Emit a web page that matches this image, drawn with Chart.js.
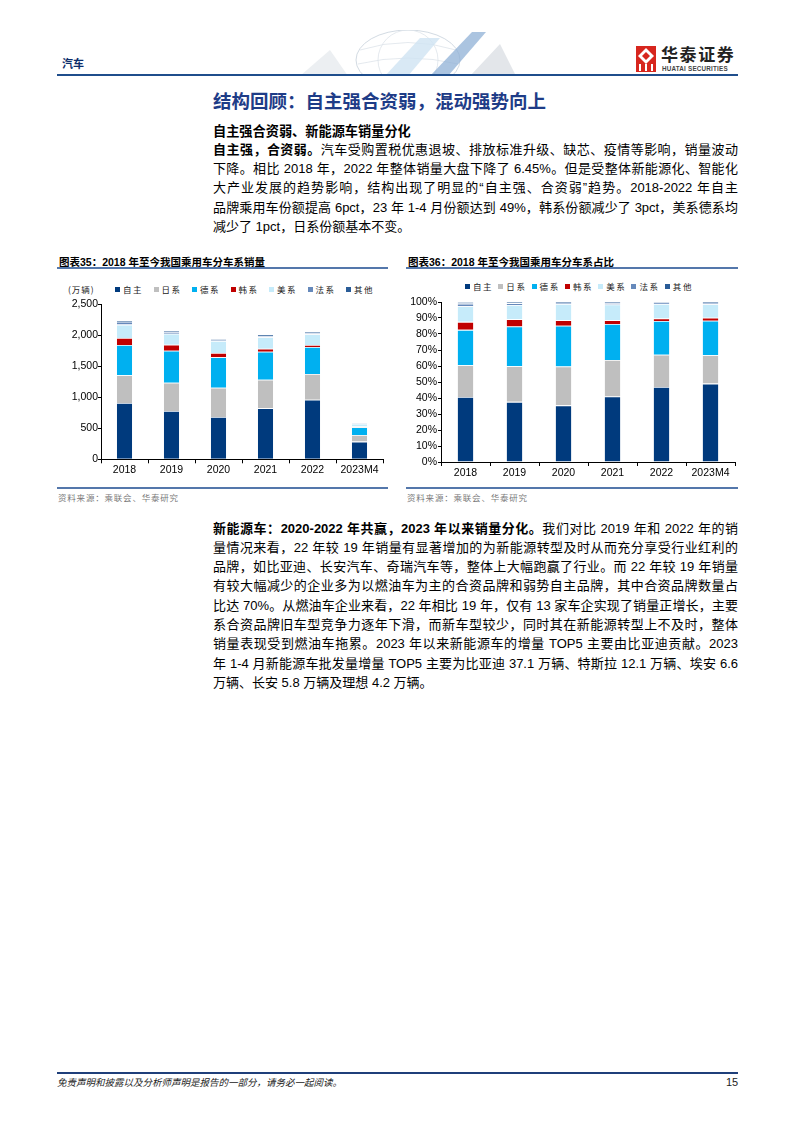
<!DOCTYPE html>
<html lang="zh-CN">
<head>
<meta charset="utf-8">
<title>结构回顾：自主强合资弱，混动强势向上</title>
<script src="https://cdn.jsdelivr.net/npm/chart.js@4.4.0/dist/chart.umd.min.js"></script>
<style>
  html, body { margin: 0; padding: 0; background: #fff; }
  body {
    width: 794px; height: 1123px; position: relative; overflow: hidden;
    font-family: "Liberation Sans", Arial, "Noto Sans CJK SC", sans-serif; color: #000;
  }
  .abs { position: absolute; }
  .cjk { font-family: "Noto Sans CJK SC", sans-serif; }
  .linea {
    position: absolute; left: 213px; width: 525px; height: 19px; line-height: 19px;
    font-size: 13px; white-space: nowrap; text-align: justify; text-align-last: justify;
  }
  .linea.ult { text-align-last: left; }
  .linea b { font-weight: 700; }
  .titulo-graf { font-size: 10.5px; font-weight: 700; line-height: 14px; }
  .regla { height: 1.5px; background: #5477ab; }
  .fuente { font-size: 8.5px; color: #7a7a7a; letter-spacing: 0.8px; line-height: 12px; }
  .leyenda { position: absolute; height: 12px; display: flex; align-items: center; }
  .leyenda .item { display: flex; align-items: center; font-family: "Noto Sans CJK SC", sans-serif;
                   font-size: 8.5px; letter-spacing: 1.6px; color: #222; }
  .leyenda .cuadro { width: 5px; height: 5px; margin-right: 3px; }
</style>
</head>
<body>

<!-- cabecera -->
<div class="abs cjk" style="left:62px; top:55px; font-size:11px; font-weight:700; color:#0c2d6b;">汽车</div>
<svg class="abs" style="left:290px; top:30px;" width="240" height="46" viewBox="0 0 240 46">
  <ellipse cx="118" cy="30" rx="52" ry="30" fill="none" stroke="#d3dbe3" stroke-width="1"/>
  <ellipse cx="118" cy="30" rx="30" ry="30" fill="none" stroke="#dde3ea" stroke-width="0.8"/>
  <path d="M70 20 Q118 5 166 20 M68 34 Q118 22 168 34" fill="none" stroke="#dde3ea" stroke-width="0.8"/>
  <polygon points="10,46 40,20 58,46" fill="#eceff2"/>
  <polygon points="95,46 130,8 150,8 118,46" fill="#cfe3f3" opacity="0.8"/>
  <polygon points="140,46 182,2 196,2 158,46" fill="#8fb0d6" opacity="0.75"/>
  <polygon points="180,46 210,14 226,46" fill="#e3e6ea"/>
</svg>
<svg class="abs" style="left:636px; top:46px;" width="20" height="26" viewBox="0 0 20 26">
  <rect x="0" y="0" width="20" height="26" fill="#d7261e"/>
  <polygon points="10,2 18,10 10,18 2,10" fill="#fff"/>
  <polygon points="10,6 14,10 10,14 6,10" fill="#d7261e"/>
  <rect x="3" y="18" width="2" height="7" fill="#fff"/>
  <rect x="9" y="18" width="2" height="7" fill="#fff"/>
  <rect x="15" y="18" width="2" height="7" fill="#fff"/>
</svg>
<div class="abs cjk" style="left:661px; top:44px; font-size:17px; font-weight:700; letter-spacing:1.6px; color:#222; line-height:20px;">华泰证券</div>
<div class="abs" style="left:662px; top:65px; font-size:6.3px; font-weight:700; color:#444; letter-spacing:0.2px; line-height:8px;">HUATAI SECURITIES</div>
<div class="abs" style="left:57px; top:74px; width:681px; height:2px; background:#1f4e8c;"></div>

<!-- texto superior -->
<div class="abs cjk" style="left:213px; top:89px; font-size:18.5px; font-weight:700; color:#1e3c87; line-height:23px;">结构回顾：自主强合资弱，混动强势向上</div>
<div class="abs cjk" style="left:213px; top:121px; font-size:13.2px; font-weight:700; line-height:19px;">自主强合资弱、新能源车销量分化</div>
<div id="parrafo1"></div>

<!-- graficas -->
<div class="abs titulo-graf" style="left:59px; top:255px;">图表35：2018 年至今我国乘用车分车系销量</div>
<div class="abs regla" style="left:57px; top:267px; width:331px;"></div>
<div class="abs titulo-graf" style="left:408px; top:255px;">图表36：2018 年至今我国乘用车分车系占比</div>
<div class="abs regla" style="left:406px; top:267px; width:332px;"></div>

<div class="abs cjk" style="left:68px; top:283px; font-size:8.5px; letter-spacing:1px; color:#222; line-height:12px;">(万辆)</div>
<div id="leyenda1" class="leyenda" style="left:115px; top:283px;"></div>
<div id="leyenda2" class="leyenda" style="left:465px; top:280px;"></div>

<canvas id="graficoVolumen" class="abs" style="left:57px; top:296px;" width="331" height="184"></canvas>
<canvas id="graficoCuota" class="abs" style="left:406px; top:294px;" width="332" height="186"></canvas>

<div class="abs regla" style="left:57px; top:487px; width:331px;"></div>
<div class="abs fuente cjk" style="left:58px; top:491px;">资料来源：乘联会、华泰研究</div>
<div class="abs regla" style="left:406px; top:487px; width:332px;"></div>
<div class="abs fuente cjk" style="left:407px; top:491px;">资料来源：乘联会、华泰研究</div>

<div id="parrafo2"></div>

<!-- pie -->
<div class="abs" style="left:57px; top:1072px; width:681px; height:2px; background:#1f3f7a;"></div>
<div class="abs cjk" style="left:57px; top:1076px; font-size:9.5px; font-style:italic; color:#222; line-height:13px;">免责声明和披露以及分析师声明是报告的一部分，请务必一起阅读。</div>
<div class="abs" style="left:726px; top:1075px; font-size:11px; color:#222; line-height:14px;">15</div>

<script>
// categorias y series
const anios = ['2018', '2019', '2020', '2021', '2022', '2023M4'];
const series = ['自主', '日系', '德系', '韩系', '美系', '法系', '其他'];
const colores = ['#003a7d', '#bfbfbf', '#00b0f0', '#c00000', '#c6ebfa', '#6689bb', '#2a5c97'];

// 销量（万辆）
const volZizhu = [907, 779, 682, 822, 960, 285];
const volRixi = [446, 455, 471, 460, 413, 105];
const volDexi = [488, 515, 490, 451, 435, 125];
const volHanxi = [112, 96, 69, 48, 32, 11];
const volMeixi = [215, 178, 193, 183, 172, 48];
const volFaxi = [48, 26, 12, 20, 20, 5];
const volQita = [21, 17, 16, 22, 17, 4];

// 占比（%）
const pctZizhu = [40.6, 37.6, 35.4, 40.9, 46.9, 49.0];
const pctRixi = [19.9, 22.2, 24.3, 22.9, 20.2, 17.7];
const pctDexi = [22.1, 24.9, 25.5, 22.5, 21.0, 21.6];
const pctHanxi = [5.0, 4.6, 3.5, 2.4, 1.6, 1.9];
const pctMeixi = [9.8, 8.8, 10.1, 9.7, 9.1, 8.4];
const pctFaxi = [1.6, 1.2, 0.6, 1.0, 0.7, 0.8];
const pctQita = [1.0, 0.7, 0.6, 0.6, 0.5, 0.6];

const ticksVolumen = [0, 500, 1000, 1500, 2000, 2500];
const ticksCuota = [0, 10, 20, 30, 40, 50, 60, 70, 80, 90, 100];

const parrafo1 = [
  '<b>自主强，合资弱。</b>汽车受购置税优惠退坡、排放标准升级、缺芯、疫情等影响，销量波动',
  '下降。相比 2018 年，2022 年整体销量大盘下降了 6.45%。但是受整体新能源化、智能化',
  '大产业发展的趋势影响，结构出现了明显的“自主强、合资弱”趋势。2018-2022 年自主',
  '品牌乘用车份额提高 6pct，23 年 1-4 月份额达到 49%，韩系份额减少了 3pct，美系德系均',
  '减少了 1pct，日系份额基本不变。'
];
const parrafo2 = [
  '<b>新能源车：2020-2022 年共赢，2023 年以来销量分化。</b>我们对比 2019 年和 2022 年的销',
  '量情况来看，22 年较 19 年销量有显著增加的为新能源转型及时从而充分享受行业红利的',
  '品牌，如比亚迪、长安汽车、奇瑞汽车等，整体上大幅跑赢了行业。而 22 年较 19 年销量',
  '有较大幅减少的企业多为以燃油车为主的合资品牌和弱势自主品牌，其中合资品牌数量占',
  '比达 70%。从燃油车企业来看，22 年相比 19 年，仅有 13 家车企实现了销量正增长，主要',
  '系合资品牌旧车型竞争力逐年下滑，而新车型较少，同时其在新能源转型上不及时，整体',
  '销量表现受到燃油车拖累。2023 年以来新能源车的增量 TOP5 主要由比亚迪贡献。2023',
  '年 1-4 月新能源车批发量增量 TOP5 主要为比亚迪 37.1 万辆、特斯拉 12.1 万辆、埃安 6.6',
  '万辆、长安 5.8 万辆及理想 4.2 万辆。'
];

function pintarParrafo(id, lineas, centro0, paso) {
  const cont = document.getElementById(id);
  cont.innerHTML = lineas.map((txt, i) => {
    const top = centro0 + i * paso - 9.5;
    const cls = i === lineas.length - 1 ? 'linea ult' : 'linea';
    return `<div class="${cls}" style="top:${top}px">${txt}</div>`;
  }).join('');
}

function pintarLeyenda(id, anchoItem) {
  const el = document.getElementById(id);
  el.innerHTML = series.map((n, i) => `
    <div class="item" style="width:${anchoItem}px">
      <span class="cuadro" style="background:${colores[i]}"></span>${n}
    </div>`).join('');
}

function armarDatasets(valores) {
  return series.map((n, i) => ({
    label: n,
    data: valores[i],
    backgroundColor: colores[i],
    borderColor: 'rgba(255,255,255,0.6)',
    borderWidth: { top: 0.8, bottom: 0, left: 0, right: 0 },
    borderSkipped: false
  }));
}

function opciones(cfg) {
  const fuenteEje = { family: 'Liberation Sans', size: 10.5 };
  return {
    responsive: false,
    animation: false,
    devicePixelRatio: 1,
    layout: { padding: { top: cfg.padTop, right: cfg.padRight, left: 0, bottom: 0 } },
    plugins: { legend: { display: false }, tooltip: { enabled: false } },
    datasets: { bar: { categoryPercentage: 1, barPercentage: cfg.barPct } },
    scales: {
      x: {
        stacked: true,
        grid: { drawOnChartArea: false, drawTicks: true, tickLength: 4, color: '#000', offset: true },
        border: { color: '#000', width: 1 },
        ticks: { color: '#000', padding: 1, font: fuenteEje, maxRotation: 0, autoSkip: false },
        afterFit: (s) => { s.height = cfg.altoX; }
      },
      y: {
        stacked: true,
        min: 0,
        max: cfg.max,
        afterBuildTicks: (s) => { s.ticks = cfg.ticks.map(v => ({ value: v })); },
        ticks: { color: '#000', padding: cfg.padTick, font: fuenteEje, callback: cfg.formato },
        grid: { drawOnChartArea: false, drawTicks: true, tickLength: 3, color: '#000' },
        border: { color: '#000', width: 1 },
        afterFit: (s) => { s.width = cfg.anchoY; }
      }
    }
  };
}

function crearGraficas() {
  if (typeof Chart === 'undefined') return;

  new Chart(document.getElementById('graficoVolumen').getContext('2d'), {
    type: 'bar',
    data: {
      labels: anios,
      datasets: armarDatasets([volZizhu, volRixi, volDexi, volHanxi, volMeixi, volFaxi, volQita])
    },
    options: opciones({
      padTop: 8, padRight: 5, barPct: 0.325, altoX: 20.7, anchoY: 44, padTick: 0,
      max: 2500, ticks: ticksVolumen,
      formato: (v) => Number(v).toLocaleString('en-US')
    })
  });

  new Chart(document.getElementById('graficoCuota').getContext('2d'), {
    type: 'bar',
    data: {
      labels: anios,
      datasets: armarDatasets([pctZizhu, pctRixi, pctDexi, pctHanxi, pctMeixi, pctFaxi, pctQita])
    },
    options: opciones({
      padTop: 8, padRight: 3, barPct: 0.32, altoX: 18, anchoY: 35, padTick: 1,
      max: 100, ticks: ticksCuota,
      formato: (v) => v + '%'
    })
  });
}

pintarParrafo('parrafo1', parrafo1, 149.5, 19.2);
pintarParrafo('parrafo2', parrafo2, 528, 19.3);
pintarLeyenda('leyenda1', 38.5);
pintarLeyenda('leyenda2', 33.3);
crearGraficas();
</script>
</body>
</html>
